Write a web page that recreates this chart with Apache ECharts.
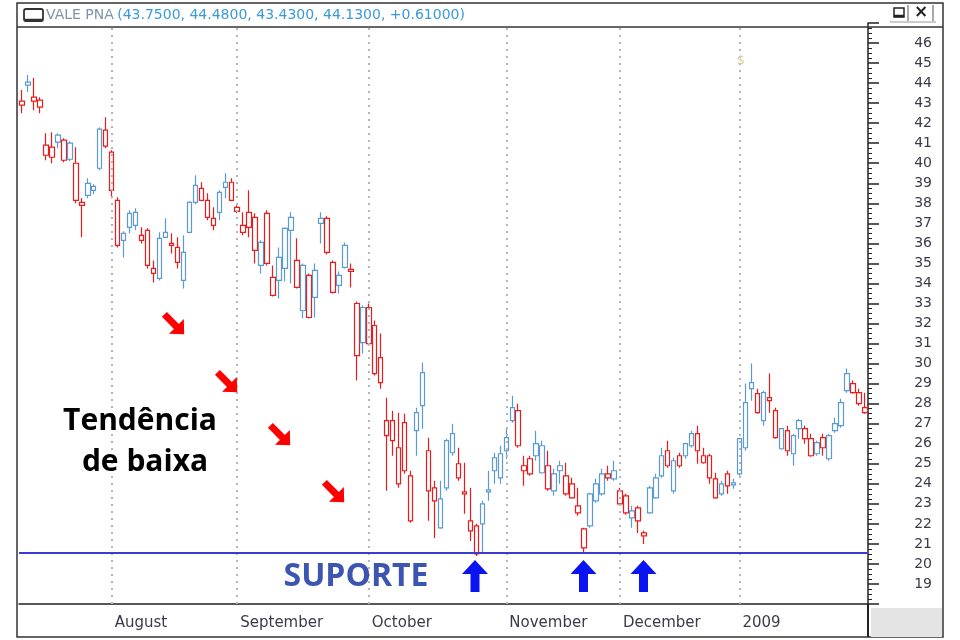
<!DOCTYPE html>
<html>
<head>
<meta charset="utf-8">
<title>VALE PNA</title>
<script src="https://cdn.jsdelivr.net/npm/echarts@6/dist/echarts.min.js"></script>
<style>
  html, body { margin: 0; padding: 0; background: #fff; }
  #chart { width: 960px; height: 640px; }
</style>
</head>
<body>
<div id="chart"></div>
<script>
  // trading days shown on the chart, per month
  const months = ['2008-07', '2008-08', '2008-09', '2008-10', '2008-11', '2008-12', '2009-01', '2009-02'];
  const monthDays = [
    [11, 14, 15, 16, 17, 18, 21, 22, 23, 24, 25, 28, 29, 30, 31],
    [1, 4, 5, 6, 7, 8, 11, 12, 13, 14, 15, 18, 19, 20, 21, 22, 25, 26, 27, 28, 29],
    [1, 2, 3, 4, 5, 8, 9, 10, 11, 12, 15, 16, 17, 18, 19, 22, 23, 24, 25, 26, 29, 30],
    [1, 2, 3, 6, 7, 8, 9, 10, 13, 14, 15, 16, 17, 20, 21, 22, 23, 24, 27, 28, 29, 30, 31],
    [3, 4, 5, 6, 7, 10, 11, 12, 13, 14, 17, 18, 19, 21, 24, 25, 26, 27, 28],
    [1, 2, 3, 4, 5, 8, 9, 10, 11, 12, 15, 16, 17, 18, 19, 22, 23, 26, 29, 30],
    [2, 5, 6, 7, 8, 9, 12, 13, 14, 15, 16, 19, 20, 21, 22, 23, 26, 27, 28, 29, 30],
    [2]
  ];
  const monthStarts = ['2008-08-01', '2008-09-01', '2008-10-01', '2008-11-03', '2008-12-01', '2009-01-02', '2009-02-02'];
  const monthLabels = ['August', 'September', 'October', 'November', 'December', '2009', ''];

  // OHLC
  const opens = [42.9, 43.9, 43.3, 43.15, 40.9, 40.8, 41.05, 41.15, 40.2, 40.0, 37.9, 39.0, 38.65, 39.75, 41.65,
    40.55, 38.15, 36.5, 37.5, 37.55, 36.15, 36.65, 34.5, 34.25, 36.55, 35.9, 35.8, 34.15, 36.55, 38.05, 38.75, 38.15, 36.9, 37.55, 39.05, 39.05,
    37.8, 36.55, 37.55, 37.3, 34.9, 37.5, 34.3, 34.15, 34.75, 36.65, 35.15, 32.65, 34.4, 33.3, 37.25, 37.25, 35.05, 33.9, 34.8, 34.6, 33.0, 31.05,
    32.8, 31.9, 30.3, 26.4, 27.15, 24.0, 27.05, 22.15, 26.65, 29.55, 25.65, 23.8, 21.8, 23.8, 25.55, 25.0, 23.5, 21.65, 21.9, 22.0, 23.6, 24.65, 24.3,
    25.65, 27.15, 27.65, 24.65, 25.25, 26.0, 24.55, 24.9, 23.65, 24.9, 23.5, 24.0, 22.9, 21.75, 21.9, 23.15, 23.5, 24.5, 24.25,
    23.65, 23.4, 22.3, 22.8, 21.4, 22.55, 23.3, 24.4, 25.65, 23.65, 25.4, 25.4, 25.9, 26.5, 25.05, 25.4, 24.25, 23.5, 24.5, 23.95,
    24.5, 25.8, 28.75, 28.5, 27.15, 28.3, 27.65, 25.75, 26.65, 25.5, 27.15, 26.75, 26.25, 25.5, 26.3, 25.25, 26.65, 26.9, 28.65, 29.0, 28.55,
    27.55];
  const closes = [43.1, 44.05, 43.1, 42.8, 40.4, 40.3, 41.4, 40.15, 41.0, 38.15, 38.05, 38.4, 38.85, 41.7, 40.85,
    38.65, 35.9, 36.15, 36.8, 36.9, 36.4, 34.9, 34.75, 36.25, 36.3, 36.0, 35.05, 35.55, 38.05, 38.9, 38.15, 37.3, 37.25, 38.55, 38.8, 38.15,
    37.6, 36.9, 36.8, 35.65, 36.05, 35.0, 33.4, 35.3, 36.75, 37.3, 33.8, 34.9, 32.3, 34.65, 37.0, 35.55, 33.55, 34.4, 35.9, 34.7, 30.4, 32.8,
    31.0, 29.5, 29.05, 27.15, 26.15, 25.8, 24.65, 24.4, 27.55, 27.9, 23.65, 23.15, 23.25, 26.15, 26.5, 24.3, 23.6, 22.15, 20.5, 23.0, 23.7, 25.3, 25.5,
    26.3, 27.8, 25.9, 24.9, 24.5, 25.4, 25.9, 23.75, 24.5, 24.65, 24.4, 23.3, 22.55, 20.8, 23.5, 24.0, 24.5, 24.3, 24.65,
    23.0, 22.55, 22.65, 22.15, 21.55, 23.8, 24.3, 25.4, 24.9, 25.15, 24.9, 26.0, 26.5, 25.65, 25.4, 24.3, 23.3, 24.0, 23.9, 24.05,
    26.25, 28.05, 29.05, 27.55, 28.55, 28.15, 26.3, 26.75, 25.65, 26.4, 26.75, 26.25, 25.4, 26.05, 25.8, 26.4, 27.0, 28.05, 29.5, 28.55, 28.0,
    27.8];
  const lows = [42.5, 43.55, 42.65, 42.5, 40.15, 40.0, 40.75, 40.05, 40.1, 38.0, 36.3, 38.25, 38.45, 39.65, 40.75,
    38.25, 35.8, 35.3, 36.5, 36.65, 36.0, 34.75, 34.05, 34.15, 36.25, 35.5, 34.75, 33.75, 36.5, 37.95, 38.1, 37.15, 36.65, 37.15, 38.25, 38.1,
    37.5, 36.4, 36.3, 35.0, 34.5, 34.9, 33.35, 33.25, 34.1, 34.0, 33.75, 32.25, 32.25, 32.3, 36.0, 35.45, 33.5, 33.5, 34.75, 33.8, 29.15, 30.5,
    30.9, 29.4, 28.75, 23.65, 25.4, 23.8, 24.5, 22.05, 25.4, 26.75, 22.15, 21.3, 21.75, 23.65, 25.4, 24.15, 22.5, 21.15, 20.4, 20.5, 23.15, 24.0, 24.0,
    25.25, 27.05, 25.8, 23.9, 24.4, 25.15, 24.5, 23.65, 23.4, 24.0, 23.4, 23.25, 22.4, 20.55, 21.8, 23.05, 23.4, 24.15, 24.15,
    22.9, 22.45, 21.8, 21.55, 21.0, 22.5, 23.25, 24.3, 24.8, 23.5, 24.8, 25.25, 25.8, 25.0, 25.0, 24.0, 23.25, 23.4, 23.5, 23.75,
    24.4, 25.65, 28.15, 27.5, 26.9, 27.55, 26.25, 25.7, 25.4, 24.9, 26.25, 26.0, 25.35, 25.4, 25.4, 25.15, 26.55, 26.8, 28.55, 28.5, 27.9,
    27.5];
  const highs = [43.65, 44.4, 44.25, 43.3, 41.5, 41.55, 41.5, 41.25, 41.1, 40.8, 38.25, 39.25, 38.95, 41.8, 42.3,
    40.65, 38.3, 36.6, 37.65, 37.75, 36.8, 36.75, 35.15, 36.55, 37.25, 36.5, 36.3, 36.4, 38.1, 39.4, 39.05, 38.5, 37.8, 38.65, 39.5, 39.25,
    37.9, 37.55, 38.65, 37.5, 36.15, 37.65, 34.9, 35.8, 36.8, 37.55, 36.25, 35.0, 34.5, 35.0, 37.55, 37.35, 35.15, 34.6, 36.05, 35.0, 33.1, 32.9,
    33.0, 32.15, 31.5, 28.3, 27.65, 27.55, 27.5, 24.65, 27.8, 30.05, 26.3, 24.15, 24.15, 26.25, 27.0, 25.8, 25.05, 23.8, 22.0, 23.15, 24.65, 25.55, 25.9,
    26.8, 28.4, 28.0, 25.4, 25.4, 26.65, 26.15, 25.65, 24.75, 25.15, 25.05, 24.3, 23.8, 21.8, 23.55, 24.25, 24.75, 24.9, 25.15,
    23.8, 23.5, 22.9, 22.9, 21.65, 23.9, 24.5, 25.8, 26.15, 25.3, 25.55, 26.05, 26.65, 26.9, 25.8, 25.5, 24.55, 24.15, 24.65, 24.25,
    26.3, 29.0, 30.0, 28.75, 28.65, 29.5, 27.8, 26.8, 26.9, 26.5, 27.25, 26.9, 26.5, 26.15, 26.5, 26.5, 27.3, 28.25, 29.75, 29.15, 28.75,
    28.55];
  const prevClose0 = 43.3;     // close before the first candle
  const supportLevel = 20.55;

  const dates = [];
  months.forEach(function (m, k) {
    monthDays[k].forEach(function (d) { dates.push(m + '-' + (d < 10 ? '0' + d : d)); });
  });
  const isMonday = dates.map(function (s) {
    const p = s.split('-');
    return new Date(Date.UTC(+p[0], +p[1] - 1, +p[2])).getUTCDay() === 1;
  });

  const RED = '#ec1a1a';
  const BLUE = '#3b7cbd';
  const BLUE_LIGHT = '#5b9bd5';
  // hollow when close > open, colour from the previous close
  const candles = opens.map(function (o, i) {
    const c = closes[i];
    const prev = i === 0 ? prevClose0 : closes[i - 1];
    const up = c >= prev;
    const col = up ? BLUE : RED;
    return {
      value: [o, c, lows[i], highs[i]],
      itemStyle: {
        color: '#ffffff',
        color0: col,
        borderColor: up ? BLUE_LIGHT : RED,
        borderColor0: col,
        borderWidth: 1.2
      }
    };
  });

  const myChart = echarts.init(document.getElementById('chart'));
  const axisFont = 'DejaVu Sans';

  const redArrow = [[-15, -3.5], [2, -3.5], [2, -10.5], [13, 0], [2, 10.5], [2, 3.5], [-15, 3.5]];
  const blueArrow = [[0, -16], [13, -2], [4.5, -2], [4.5, 16], [-4.5, 16], [-4.5, -2], [-13, -2]];

  const option = {
    animation: false,
    backgroundColor: '#ffffff',
    grid: { left: 19, right: 92, top: 23, bottom: 36, outerBoundsMode: 'none' },
    xAxis: [
      {
        type: 'category',
        data: dates,
        boundaryGap: true,
        axisLine: { lineStyle: { color: '#222', width: 1.5 } },
        axisTick: {
          alignWithLabel: true,
          interval: function (i) { return isMonday[i]; },
          length: 6,
          lineStyle: { color: '#222', width: 1.5 }
        },
        axisLabel: { show: false },
        splitLine: { show: false }
      },
      {
        type: 'category',
        data: dates,
        position: 'bottom',
        boundaryGap: true,
        axisLine: { show: false },
        axisTick: {
          alignWithLabel: true,
          interval: function (i, v) { return monthStarts.indexOf(v) >= 0; },
          length: 32,
          lineStyle: { color: '#333', width: 2 }
        },
        axisLabel: {
          interval: function (i, v) { return monthStarts.indexOf(v) >= 0; },
          formatter: function (v) { return monthLabels[monthStarts.indexOf(v)]; },
          align: 'left',
          margin: 12,
          padding: [0, 0, 0, 3],
          color: '#3a3a4a',
          fontFamily: axisFont,
          fontSize: 15
        },
        splitLine: { show: false }
      }
    ],
    yAxis: {
      type: 'value',
      position: 'right',
      min: 18,
      max: 47,
      interval: 1,
      axisLine: { show: true, lineStyle: { color: '#222', width: 1.5 } },
      axisTick: { show: true, length: 11, lineStyle: { color: '#222', width: 1.5 } },
      minorTick: { show: true, splitNumber: 4, length: 4, lineStyle: { color: '#222' } },
      axisLabel: {
        align: 'right',
        margin: 64,
        color: '#3a3a4a',
        fontFamily: axisFont,
        fontSize: 14,
        showMinLabel: false,
        showMaxLabel: false
      },
      splitLine: { show: false }
    },
    series: [
      {
        name: 'VALE PNA',
        type: 'candlestick',
        barWidth: 5,
        data: candles,
        markLine: {
          silent: true,
          symbol: 'none',
          label: { show: false },
          data: monthStarts.slice(0, 6).map(function (d) {
            return { xAxis: d, lineStyle: { type: [2, 5], color: '#b5b5b5', width: 2 } };
          }).concat([
            { yAxis: supportLevel, lineStyle: { type: 'solid', color: '#3b3bd4', width: 2 } }
          ])
        }
      }
    ],
    graphic: [
      // frame
      { type: 'rect', z: 50, shape: { x: 17, y: 3, width: 926, height: 634 }, style: { fill: 'none', stroke: '#333', lineWidth: 1.5 } },
      { type: 'line', z: 50, shape: { x1: 17, y1: 27, x2: 943, y2: 27 }, style: { stroke: '#333', lineWidth: 1.5 } },
      { type: 'rect', z: 50, shape: { x: 871, y: 608, width: 71, height: 29 }, style: { fill: '#e4e4e4' } },
      { type: 'line', z: 50, shape: { x1: 868, y1: 604, x2: 868, y2: 637 }, style: { stroke: '#222', lineWidth: 2 } },
      // title bar
      { type: 'rect', z: 50, shape: { x: 24, y: 9, width: 19, height: 12, r: 2 }, style: { fill: 'none', stroke: '#333', lineWidth: 1.8 } },
      { type: 'line', z: 50, shape: { x1: 24, y1: 20, x2: 43, y2: 20 }, style: { stroke: '#333', lineWidth: 2.5 } },
      {
        type: 'text', z: 50, x: 46, y: 15,
        style: {
          text: '{a|VALE PNA} {b|(43.7500, 44.4800, 43.4300, 44.1300, +0.61000)}',
          verticalAlign: 'middle',
          rich: {
            a: { fill: '#7f93a8', fontFamily: axisFont, fontSize: 14 },
            b: { fill: '#3a9ad9', fontFamily: axisFont, fontSize: 14 }
          }
        }
      },
      { type: 'rect', z: 50, shape: { x: 894, y: 8, width: 10, height: 9 }, style: { fill: 'none', stroke: '#222', lineWidth: 1.5 } },
      { type: 'line', z: 50, shape: { x1: 894, y1: 16, x2: 904, y2: 16 }, style: { stroke: '#222', lineWidth: 2.5 } },
      { type: 'line', z: 50, shape: { x1: 908, y1: 5, x2: 908, y2: 21 }, style: { stroke: '#555', lineWidth: 1 } },
      { type: 'text', z: 50, x: 921, y: 13, style: { text: '×', fill: '#222', font: 'bold 17px DejaVu Sans', align: 'center', verticalAlign: 'middle' } },
      { type: 'line', z: 50, shape: { x1: 933, y1: 5, x2: 933, y2: 21 }, style: { stroke: '#555', lineWidth: 1 } },
      { type: 'line', z: 50, shape: { x1: 890, y1: 22, x2: 936, y2: 22 }, style: { stroke: '#999', lineWidth: 1 } },
      // dividend marker
      { type: 'text', z: 50, x: 741, y: 61, style: { text: '$', fill: '#d8d0a4', font: '13px DejaVu Sans', align: 'center', verticalAlign: 'middle' } },
      // annotations
      { type: 'text', z: 60, x: 140, y: 421, style: { text: 'Tendência', fill: '#000', font: 'bold 30px "Open Sans"', align: 'center', verticalAlign: 'middle' } },
      { type: 'text', z: 60, x: 145, y: 462, style: { text: 'de baixa', fill: '#000', font: 'bold 30px "Open Sans"', align: 'center', verticalAlign: 'middle' } },
      { type: 'text', z: 60, x: 356, y: 577, style: { text: 'SUPORTE', fill: '#3b55b0', font: 'bold 32px "Open Sans"', align: 'center', verticalAlign: 'middle' } },
      { type: 'polygon', z: 60, x: 175, y: 325, rotation: -Math.PI / 4, shape: { points: redArrow }, style: { fill: '#ff0000' } },
      { type: 'polygon', z: 60, x: 228, y: 383, rotation: -Math.PI / 4, shape: { points: redArrow }, style: { fill: '#ff0000' } },
      { type: 'polygon', z: 60, x: 281, y: 436, rotation: -Math.PI / 4, shape: { points: redArrow }, style: { fill: '#ff0000' } },
      { type: 'polygon', z: 60, x: 335, y: 493, rotation: -Math.PI / 4, shape: { points: redArrow }, style: { fill: '#ff0000' } },
      { type: 'polygon', z: 60, x: 475, y: 576, shape: { points: blueArrow }, style: { fill: '#0a14f0' } },
      { type: 'polygon', z: 60, x: 583.5, y: 576, shape: { points: blueArrow }, style: { fill: '#0a14f0' } },
      { type: 'polygon', z: 60, x: 643.5, y: 576, shape: { points: blueArrow }, style: { fill: '#0a14f0' } }
    ]
  };

  myChart.setOption(option);
  window.addEventListener('resize', function () {
    myChart.resize();
  });
</script>
</body>
</html>
